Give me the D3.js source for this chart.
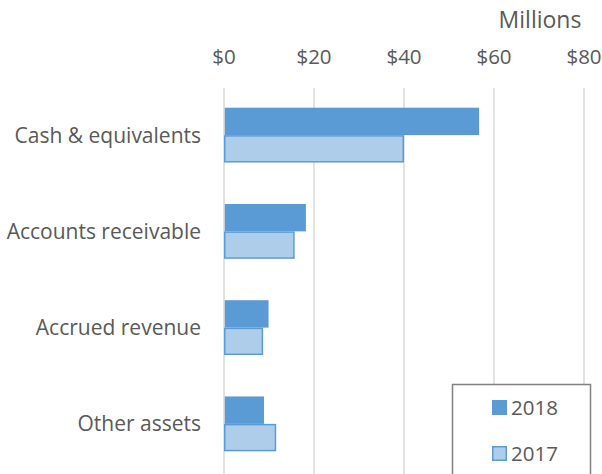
<!DOCTYPE html>
<meta charset="utf-8">
<head>
	<title>Assets by year</title>
	<script type="text/javascript" src="https://cdn.jsdelivr.net/npm/d3@7"></script>
	<style>
		body { margin: 0; background: #fff; }
		text { font-family: "Open Sans", sans-serif; fill: #595959; }
	</style>
</head>
<body>
	<div id="chart"></div>
	<script>
		// data (millions of dollars)
		const categories = ["Cash & equivalents", "Accounts receivable", "Accrued revenue", "Other assets"];
		const years = ["2018", "2017"];
		const values2018 = [56.7, 18.2, 9.9, 8.9];
		const values2017 = [40.0, 15.7, 8.7, 11.6];
		const ticks = [0, 20, 40, 60, 80];

		const width = 602;
		const height = 474;

		const colors = {"2018": "#5b9bd5", "2017": "#aecdea"};

		const svg = d3.select("#chart")
			.append("svg")
			.attr("width", width)
			.attr("height", height);

		const x = d3.scaleLinear().domain([0, 80]).range([224, 584]);
		const y = d3.scaleBand().domain(categories).range([87, 472])
			.paddingInner(0.43).paddingOuter(0.215);
		const ySub = d3.scaleBand().domain(years).range([0, y.bandwidth()]);

		// gridlines
		svg.append("g")
			.selectAll("line")
			.data(ticks)
			.enter().append("line")
			.attr("x1", d => x(d)).attr("x2", d => x(d))
			.attr("y1", 88).attr("y2", height)
			.attr("stroke", "#d9d9d9")
			.attr("stroke-width", 1.5);

		// top axis labels
		svg.append("g")
			.selectAll("text")
			.data(ticks)
			.enter().append("text")
			.attr("x", d => x(d))
			.attr("y", 64)
			.attr("text-anchor", "middle")
			.attr("font-size", "20.5px")
			.text(d => "$" + d);

		svg.append("text")
			.attr("x", 540)
			.attr("y", 28)
			.attr("text-anchor", "middle")
			.attr("font-size", "23px")
			.text("Millions");

		// bars
		const rows = categories.map((c, i) => ({cat: c, "2018": values2018[i], "2017": values2017[i]}));

		const groups = svg.append("g")
			.selectAll("g")
			.data(rows)
			.enter().append("g")
			.attr("transform", d => `translate(0,${y(d.cat)})`);

		groups.selectAll("rect")
			.data(d => years.map(k => ({year: k, value: d[k]})))
			.enter().append("rect")
			.attr("x", x(0) + 0.75)
			.attr("y", d => ySub(d.year) + (d.year == "2017" ? 0.75 : 0))
			.attr("width", d => x(d.value) - x(0) - (d.year == "2017" ? 1.5 : 0.75))
			.attr("height", d => ySub.bandwidth() - (d.year == "2017" ? 1.5 : 0))
			.attr("fill", d => colors[d.year])
			.attr("stroke", d => d.year == "2017" ? "#5b9bd5" : "none")
			.attr("stroke-width", 1.5);

		// category labels
		svg.append("g")
			.selectAll("text")
			.data(categories)
			.enter().append("text")
			.attr("x", 201)
			.attr("y", d => y(d) + y.bandwidth() / 2 + 7.5)
			.attr("text-anchor", "end")
			.attr("font-size", "21px")
			.text(d => d);

		// legend
		const legend = svg.append("g");
		legend.append("rect")
			.attr("x", 452.5).attr("y", 384.5)
			.attr("width", 138).attr("height", 100)
			.attr("fill", "#fff")
			.attr("stroke", "#808080")
			.attr("stroke-width", 1.5);

		const items = legend.selectAll("g")
			.data(years)
			.enter().append("g")
			.attr("transform", (d, i) => `translate(492,${400 + i * 46})`);

		items.append("rect")
			.attr("x", 0.75).attr("y", 0.75)
			.attr("width", 13.5).attr("height", 13.5)
			.attr("fill", d => colors[d])
			.attr("stroke", d => d == "2017" ? "#5b9bd5" : colors[d])
			.attr("stroke-width", 1.5);

		items.append("text")
			.attr("x", 19)
			.attr("y", 14.5)
			.attr("font-size", "20.5px")
			.text(d => d);
	</script>
</body>
</html>
